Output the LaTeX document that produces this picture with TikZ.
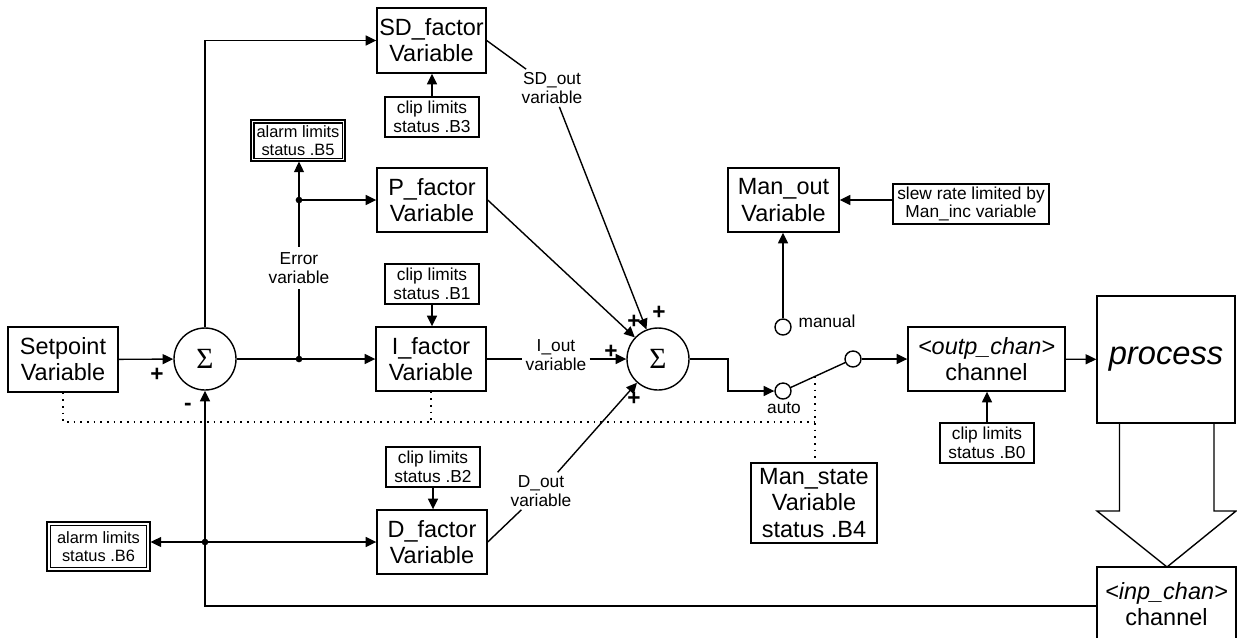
\documentclass[tikz,border=0pt]{standalone}
\usepackage{fontspec}
\setmainfont{Liberation Sans}
\newfontfamily\serf{Liberation Serif}
\usetikzlibrary{arrows.meta,calc}
\newcommand\bigf{\fontsize{17.6}{19.6}\selectfont}
\newcommand\smf{\fontsize{13}{14}\selectfont}
\newcommand\alf{\fontsize{12.3}{13.6}\selectfont}
\newcommand\sgf{\fontsize{17}{17}\selectfont\bfseries}
\newcommand\sigf{\serf\fontsize{22}{22}\selectfont}
\newcommand\procf{\fontsize{24.5}{26}\selectfont\itshape}
\begin{document}
\begin{tikzpicture}[x=0.75pt,y=-0.75pt,line width=1.05pt,
  >={Triangle[length=8pt,width=7.5pt]},
  box/.style={draw,align=center,inner sep=0pt,font=\bigf},
  sbox/.style={draw,align=center,inner sep=0pt,font=\smf,minimum width=70.5pt,minimum height=30pt},
  abox/.style={draw,line width=0.8pt,align=center,inner sep=0pt,font=\alf},
  lab/.style={align=center,font=\smf,inner sep=2pt},
  sumnode/.style={draw,circle,minimum size=46.5pt,inner sep=0pt,font=\sigf},
  swc/.style={draw,circle,minimum size=12pt,inner sep=0pt},
  sgn/.style={font=\sgf,inner sep=0pt},
  dots/.style={line width=1.3pt,dash pattern=on 1.3pt off 3.7pt},
  jdot/.style={circle,fill,inner sep=0pt,minimum size=5pt}]
\useasboundingbox (0,0) rectangle (1237,637);
\clip (0,0) rectangle (1237,637);
% nodes
\node[box,minimum width=82.5pt,minimum height=48.75pt] (sp) at (63,359.5) {Setpoint\\Variable};
\node[sumnode] (s1) at (205,359) {Σ};
\node[box,minimum width=81.75pt,minimum height=48.75pt] (sd) at (431.5,40.5) {SD\_factor\\Variable};
\node[sbox] (c3) at (432,117) {clip limits\\status .B3};
\node[abox,minimum width=70.5pt,minimum height=30.75pt] (a5) at (298,140.5) {alarm limits\\status .B5};
\draw[line width=0.8pt] ($(a5.north west)+(3.5,3.5)$) rectangle ($(a5.south east)+(-3.5,-3.5)$);
\node[box,minimum width=82.5pt,minimum height=48pt] (pf) at (432,200) {P\_factor\\Variable};
\node[sbox] (c1) at (432,284) {clip limits\\status .B1};
\node[box,minimum width=82.5pt,minimum height=48pt] (if) at (431,359) {I\_factor\\Variable};
\node[sbox] (c2) at (433,467) {clip limits\\status .B2};
\node[box,minimum width=82.5pt,minimum height=48pt] (df) at (432,542) {D\_factor\\Variable};
\node[abox,minimum width=77.25pt,minimum height=36.75pt] (a6) at (98.5,546.5) {alarm limits\\status .B6};
\draw[line width=0.8pt] ($(a6.north west)+(4,4)$) rectangle ($(a6.south east)+(-4,-4)$);
\node[sumnode] (s2) at (658,359) {Σ};
\node[box,minimum width=83.25pt,minimum height=48pt] (mo) at (783.5,200) {Man\_out\\Variable};
\node[sbox,minimum width=117pt] (slew) at (971,204) {slew rate limited by\\Man\_inc variable};
\node[box,minimum width=117.75pt,minimum height=48pt] (oc) at (986.5,359) {\textit{<outp\_chan>}\\channel};
\node[sbox] (c0) at (987,443) {clip limits\\status .B0};
\node[box,minimum width=103.5pt,minimum height=95.25pt,font=\procf] (proc) at (1166,359.5) {process};
\node[box,minimum width=94.5pt,minimum height=60pt] (ms) at (814,503) {Man\_state\\Variable\\status .B4};
\node[box,minimum width=104.25pt,minimum height=55.5pt] (ic) at (1166.5,604) {\textit{<inp\_chan>}\\channel};
% switch
\node[swc] (man) at (783,327) {};
\node[swc] (auto) at (783,391) {};
\node[swc] (sw) at (853,359) {};
\node[lab] (manl) at (827,321) {manual};
\node[lab] (autol) at (784,408) {auto};
% labels
\node[lab,inner sep=4pt] (err) at (299,268) {Error\\variable};
\node[lab] (sdl) at (552,88) {SD\_out\\variable};
\node[lab] (iol) at (556,355) {I\_out\\variable};
\node[lab] (dol) at (541,491) {D\_out\\variable};
% signs
\node[sgn] (p1) at (157,375) {+};
\node[sgn] (m1) at (188,407) {-};
\node[sgn] (p2) at (634,322) {+};
\node[sgn] (p3) at (659,313) {+};
\node[sgn] (p4) at (611,352) {+};
\node[sgn] (p5) at (634,399) {+};
% junctions
\coordinate (j1) at (299,359);
\coordinate (jp) at (299,200);
\coordinate (j2) at (205,542);
\coordinate (fb) at (205,606);
\coordinate (k) at (728,359);
\coordinate (dl) at (815,422);
% connectors
\draw[->] (sp) -- (s1);
\draw (s1) -- (j1);
\draw[->] (j1) -- (if);
\draw (j1) -- (err);
\draw (err) -- (jp);
\draw[->] (jp) -- (pf);
\draw[->] (jp) -- (jp |- a5.south);
\draw[->] (s1.north) |- (sd.west);
\draw[->] (c3.north) -- (c3.north |- sd.south);
\draw[->] (c1.south) -- (c1.south |- if.north);
\draw[->] (c2.south) -- (c2.south |- df.north);
\draw (sd.east) -- (sdl);
\draw[->] (sdl) -- (s2);
\draw[->] (pf.east) -- (s2);
\draw (if.east) -- (if.east -| iol.west);
\draw[->] (iol.east |- s2) -- (s2.west);
\draw (df.east) -- (dol);
\draw[->] (dol) -- (s2);
\draw[->] (s2.east) -- (k) |- (auto);
\draw (auto) -- (sw);
\draw[->] (sw) -- (oc);
\draw[->] (man.north) -- (man.north |- mo.south);
\draw[->] (slew.west |- mo.east) -- (mo.east);
\draw[->] (c0.north) -- (c0.north |- oc.south);
\draw[->] (oc) -- (proc);
\draw[->] (ic.west |- fb) -- (fb) -- (s1.south);
\draw[->] (j2) -- (j2 -| a6.east);
\draw[->] (j2) -- (df);
\node[jdot] at (j1) {};
\node[jdot] at (jp) {};
\node[jdot] at (j2) {};
% dotted lines
\draw[dots] (sp.south) |- (dl);
\draw[dots] (if.south) -- (if.south |- dl);
\coordinate (lv) at ($(auto)!0.457!(sw)$);
\draw[dots] (lv) -- (lv |- ms.north);
% hollow arrow
\draw[line join=miter] (1119.5,423) -- (1119.5,511) -- (1097,511) -- (1167,567) -- (1236,511) -- (1214,511) -- (1214,423);
\end{tikzpicture}
\end{document}
